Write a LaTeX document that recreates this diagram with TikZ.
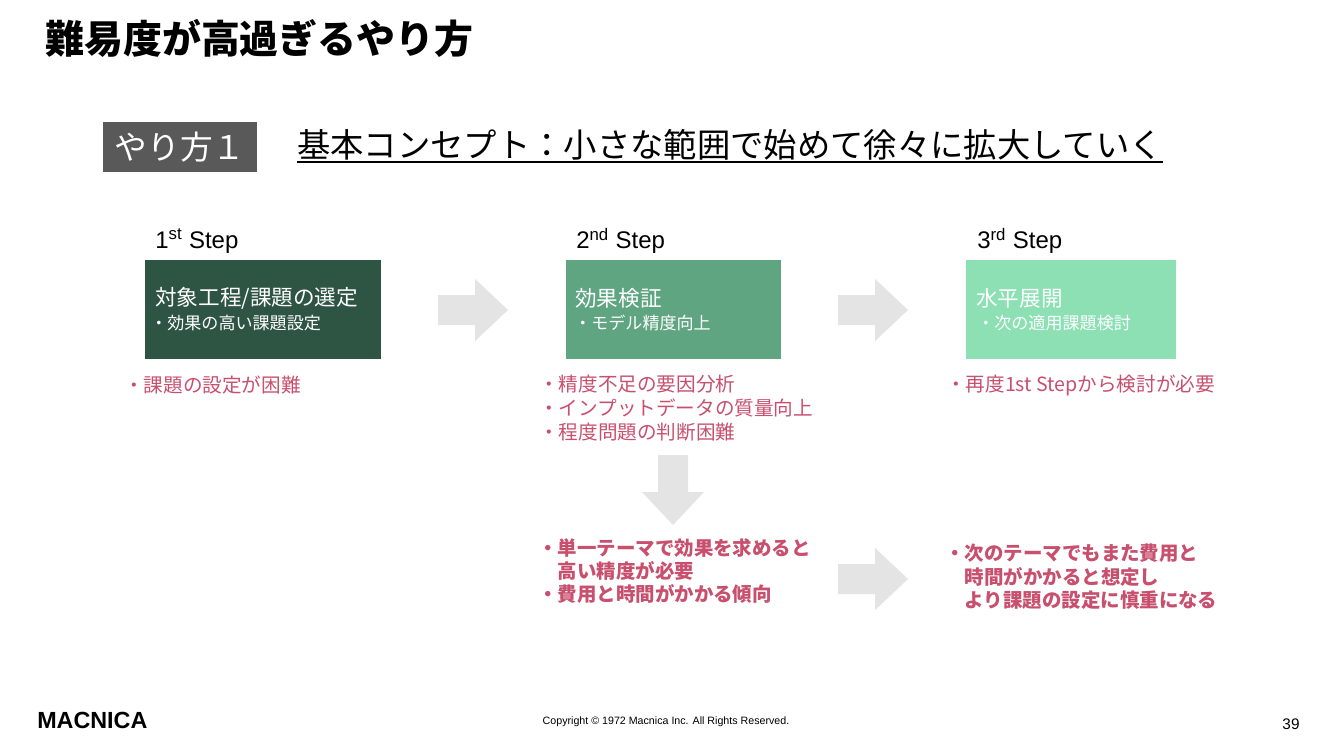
\documentclass[tikz,border=0pt]{standalone}
\usepackage{fontspec}
\setmainfont{Liberation Sans}
\newfontfamily\jp{Noto Sans CJK JP}
\usepackage{tikz}
\usetikzlibrary{positioning}
\definecolor{darkstep}{HTML}{2E5443}
\definecolor{midstep}{HTML}{5FA582}
\definecolor{lightstep}{HTML}{8CE0B4}
\definecolor{tagbg}{HTML}{595959}
\definecolor{arrowgray}{HTML}{E4E4E4}
\definecolor{issuered}{HTML}{C8506E}
\tikzset{txt/.style = {inner sep=0pt, anchor=west},
         stepbox/.style = {rectangle, inner sep=0pt, minimum height=74.25pt},
         steplabel/.style = {txt, font=\fontsize{18}{20}\selectfont},
         boxhead/.style = {txt, text=white, font=\jp\fontsize{16.2}{18}\selectfont},
         boxsub/.style = {txt, text=white, font=\jp\fontsize{12.8}{15}\selectfont},
         issue/.style = {txt, align=left, text=issuered, font=\jp\fontsize{14.7}{18}\selectfont},
         issuebold/.style = {txt, align=left, text=issuered, font=\jp\bfseries\fontsize{14.6}{17.5}\selectfont},
         blockarrow/.pic = {\fill[arrowgray] (-35,-15) -- (2,-15) -- (2,-31) -- (35,0) -- (2,31) -- (2,15) -- (-35,15) -- cycle;}}
\begin{document}
\begin{tikzpicture}[x=0.75pt, y=-0.75pt]
            \useasboundingbox[fill=white] (0,0) rectangle (1333,750);

            \node[txt, font=\jp\bfseries\fontsize{29.2}{32}\selectfont] (title) at (45,38) {難易度が高過ぎるやり方};

            \node[rectangle, fill=tagbg, minimum width=115.5pt, minimum height=37.5pt, text=white,
                  font=\jp\fontsize{24.5}{26}\selectfont] (tag) at (180,147) {やり方１};
            \node[txt, font=\jp\fontsize{25}{28}\selectfont] (concept) at (297,145) {基本コンセプト：小さな範囲で始めて徐々に拡大していく};
            \draw[line width=0.9pt] ([yshift=-1pt]concept.south west) -- ([yshift=-1pt]concept.south east);

            \node[steplabel] (s1) at (155,241) {1\textsuperscript{st} Step};
            \node[steplabel] (s2) at (576,241) {2\textsuperscript{nd} Step};
            \node[steplabel] (s3) at (977,241) {3\textsuperscript{rd} Step};

            \node[stepbox, fill=darkstep, minimum width=177pt] (box1) at (263,309.5) {};
            \node[stepbox, fill=midstep, minimum width=161.25pt] (box2) at (673.5,309.5) {};
            \node[stepbox, fill=lightstep, minimum width=157.5pt] (box3) at (1071,309.5) {};

            \node[boxhead] (h1) at (155,298) {対象工程/課題の選定};
            \node[boxsub] (u1) at (150,323) {・効果の高い課題設定};
            \node[boxhead] (h2) at (575,298) {効果検証};
            \node[boxsub] (u2) at (574,323) {・モデル精度向上};
            \node[boxhead] (h3) at (976,298) {水平展開};
            \node[boxsub] (u3) at (977,323) {・次の適用課題検討};

            \pic at (473,310) {blockarrow};
            \pic at (873,310) {blockarrow};
            \pic[rotate=-90] at (673,490) {blockarrow};
            \pic at (873,579) {blockarrow};

            \node[issue] (c1) at (124,385) {・課題の設定が困難};
            \node[issue] (c2) at (539,408) {・精度不足の要因分析\\・インプットデータの質量向上\\・程度問題の判断困難};
            \node[issue] (c3) at (946,385) {・再度1st Stepから検討が必要};

            \node[issuebold] (d2) at (538,571) {・単一テーマで効果を求めると\\\hspace*{1em}高い精度が必要\\・費用と時間がかかる傾向};
            \node[issuebold] (d3) at (945,577) {・次のテーマでもまた費用と\\\hspace*{1em}時間がかかると想定し\\\hspace*{1em}より課題の設定に慎重になる};

            \node[txt, font=\bfseries\fontsize{17.5}{18}\selectfont] (logo) at (37,720) {MACNICA};
            \node[inner sep=0pt, font=\fontsize{8}{9}\selectfont] (copy) at (666,722) {Copyright © 1972 Macnica Inc. All Rights Reserved.};
            \node[inner sep=0pt, font=\fontsize{11.5}{13}\selectfont] (page) at (1291,724) {39};
        \end{tikzpicture}
\end{document}
